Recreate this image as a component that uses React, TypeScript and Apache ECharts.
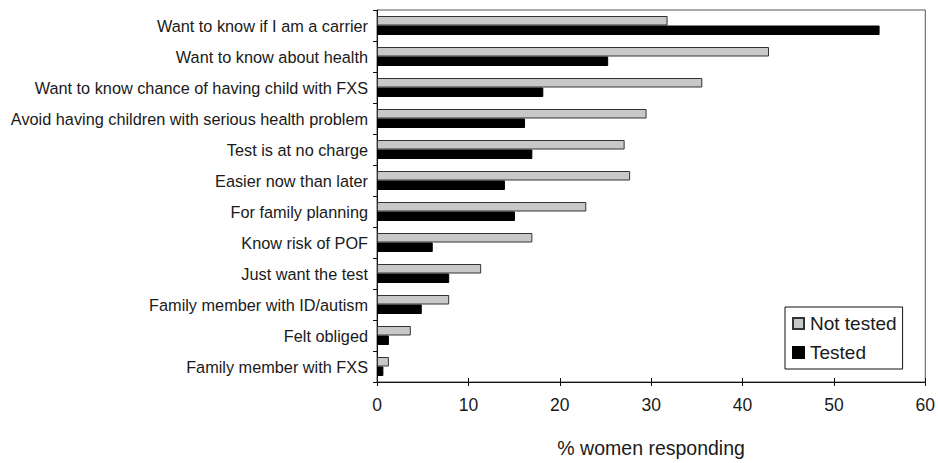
import React, { useEffect, useRef } from "react";
import * as echarts from "echarts";

const categories = [
  "Want to know if I am a carrier",
  "Want to know about health",
  "Want to know chance of having child with FXS",
  "Avoid having children with serious health problem",
  "Test is at no charge",
  "Easier now than later",
  "For family planning",
  "Know risk of POF",
  "Just want the test",
  "Family member with ID/autism",
  "Felt obliged",
  "Family member with FXS",
];
const notTested = [31.8, 42.9, 35.6, 29.5, 27.1, 27.7, 22.9, 17.0, 11.4, 7.9, 3.7, 1.3];
const tested = [55.0, 25.3, 18.2, 16.2, 17.0, 14.0, 15.1, 6.1, 7.9, 4.9, 1.3, 0.7];
const xTicks = [0, 60, 10];

const FONT = "'Liberation Sans', Arial, Helvetica, sans-serif";

export default function App() {
  const ref = useRef<HTMLDivElement>(null);
  useEffect(() => {
    if (!ref.current) return;
    const chart = echarts.init(ref.current, undefined, { renderer: "svg" });
    chart.setOption({
      animation: false,
      backgroundColor: "#fff",
      textStyle: { fontFamily: FONT },
      grid: {
        left: 377,
        right: 10,
        top: 10,
        bottom: 74,
        show: true,
        borderColor: "#555",
        borderWidth: 1,
      },
      legend: {
        orient: "vertical",
        left: 785,
        top: 307,
        icon: "rect",
        itemWidth: 11,
        itemHeight: 11,
        itemGap: 10,
        padding: [7, 6, 7, 7],
        borderColor: "#111",
        borderWidth: 1,
        backgroundColor: "#fff",
        textStyle: { fontSize: 19, color: "#1a1a1a", fontFamily: FONT, padding: [0, 0, 0, 1] },
        data: ["Not tested", "Tested"],
      },
      xAxis: [
        {
          type: "value",
          min: xTicks[0],
          max: xTicks[1],
          interval: xTicks[2],
          splitLine: { show: false },
          axisLine: { show: true, lineStyle: { color: "#111", width: 1 } },
          axisTick: { show: true, length: 4, lineStyle: { color: "#111" } },
          axisLabel: { fontSize: 17.5, color: "#1a1a1a", margin: 14, fontFamily: FONT },
          name: "% women responding",
          nameLocation: "middle",
          nameGap: 56,
          nameTextStyle: { fontSize: 19.5, color: "#1a1a1a", fontFamily: FONT },
        },
        {
          type: "value",
          position: "bottom",
          min: xTicks[0],
          max: xTicks[1],
          interval: xTicks[2],
          splitLine: { show: false },
          axisLine: { show: false },
          axisTick: { show: true, inside: true, length: 4, lineStyle: { color: "#111" } },
          axisLabel: { show: false },
        },
      ],
      yAxis: {
        type: "category",
        inverse: true,
        data: categories,
        axisLine: { show: true, lineStyle: { color: "#111", width: 1 } },
        axisTick: { show: true, length: 4, lineStyle: { color: "#111" } },
        axisLabel: { fontSize: 16.3, color: "#1a1a1a", margin: 9, fontFamily: FONT },
      },
      series: [
        {
          name: "Not tested",
          type: "bar",
          data: notTested,
          barWidth: 9.5,
          barGap: "0%",
          itemStyle: { color: "#c8c8c8", borderColor: "#333", borderWidth: 1 },
        },
        {
          name: "Tested",
          type: "bar",
          data: tested,
          barWidth: 9.5,
          barGap: "0%",
          itemStyle: { color: "#000", borderColor: "#000", borderWidth: 1 },
        },
      ],
    });
    return () => chart.dispose();
  }, []);
  return <div ref={ref} style={{ width: 938, height: 463, position: "absolute", left: 0, top: 0 }} />;
}
